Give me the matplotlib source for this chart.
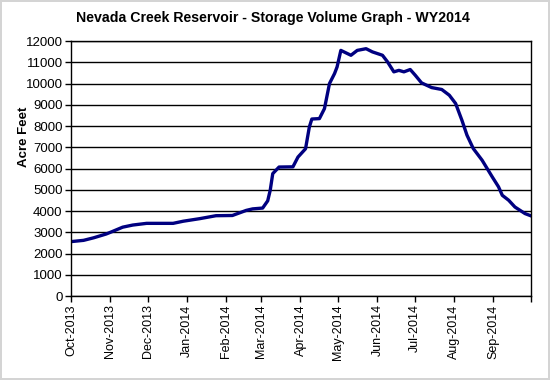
import pandas as pd
import matplotlib.pyplot as plt

# storage volume (acre feet)
dates = [
    "2013-10-01", "2013-10-11", "2013-10-19", "2013-10-29", "2013-11-03",
    "2013-11-11", "2013-11-19", "2013-11-30", "2013-12-21", "2013-12-29",
    "2014-01-11", "2014-01-24", "2014-02-06", "2014-02-17", "2014-02-22",
    "2014-03-02", "2014-03-06", "2014-03-08", "2014-03-10", "2014-03-15",
    "2014-03-26", "2014-03-30", "2014-04-05", "2014-04-08", "2014-04-10",
    "2014-04-16", "2014-04-20", "2014-04-24", "2014-04-28", "2014-04-30",
    "2014-05-03", "2014-05-11", "2014-05-16", "2014-05-23", "2014-05-28",
    "2014-06-05", "2014-06-09", "2014-06-14", "2014-06-18", "2014-06-22",
    "2014-06-27", "2014-07-01", "2014-07-06", "2014-07-14", "2014-07-22",
    "2014-07-28", "2014-08-02", "2014-08-07", "2014-08-11", "2014-08-16",
    "2014-08-23", "2014-08-31", "2014-09-05", "2014-09-08", "2014-09-13",
    "2014-09-18", "2014-09-26", "2014-09-30",
]
storage = [
    2560, 2620, 2740, 2920, 3040,
    3240, 3340, 3420, 3420, 3520,
    3640, 3780, 3790, 4030, 4100,
    4140, 4480, 4980, 5760, 6070,
    6080, 6540, 6930, 7950, 8330,
    8350, 8820, 10000, 10470, 10780,
    11560, 11330, 11560, 11640, 11490,
    11330, 11020, 10550, 10620, 10550,
    10660, 10390, 10030, 9810, 9720,
    9450, 9060, 8270, 7570, 6940,
    6390, 5610, 5140, 4740, 4510,
    4190, 3880, 3790,
]

month_starts = pd.date_range("2013-10-01", "2014-09-01", freq="MS")
month_labels = [d.strftime("%b-%Y") for d in month_starts]
y_ticks = list(range(0, 13000, 1000))

plt.rcParams["font.family"] = ["Liberation Sans", "DejaVu Sans"]

fig = plt.figure(figsize=(5.5, 3.8), dpi=100)
fig.patch.set_edgecolor("#d4d4d4")
fig.patch.set_linewidth(1.5)
ax = fig.add_axes([0.129, 0.221, 0.837, 0.671])

ax.plot(pd.to_datetime(dates), storage, color="#000080", linewidth=2.4,
        solid_joinstyle="round")

ax.set_xlim(pd.Timestamp("2013-10-01"), pd.Timestamp("2014-10-01"))
ax.set_ylim(0, 12000)
ax.set_yticks(y_ticks)
ax.set_yticklabels([str(v) for v in y_ticks], fontsize=9.5)

ticks = list(month_starts) + [pd.Timestamp("2014-10-01")]
ax.set_xticks(ticks)
ax.set_xticklabels(month_labels + [""], rotation=90, fontsize=9)

ax.grid(axis="y", color="black", linewidth=1)
ax.set_axisbelow(True)
for s in ax.spines.values():
    s.set_linewidth(1)
ax.tick_params(axis="both", direction="out", length=4, width=1, pad=2)

ax.set_ylabel("Acre Feet", fontsize=9.5, fontweight="bold")
ax.yaxis.set_label_coords(-0.09, 0.624)
fig.text(0.497, 1 - 18 / 380, "Nevada Creek Reservoir - Storage Volume Graph - WY2014",
         fontsize=10.2, fontweight="bold", ha="center", va="center")

fig.savefig("out.png", dpi=100)
